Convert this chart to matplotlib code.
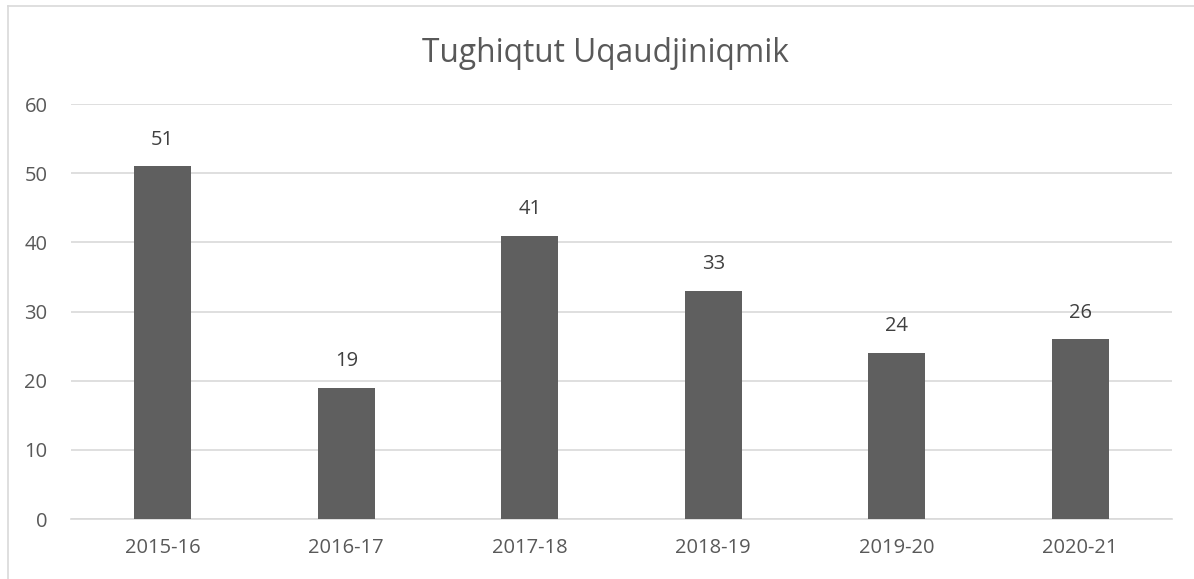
import matplotlib.pyplot as plt
from matplotlib.lines import Line2D

# datos del grafico
years = ["2015-16", "2016-17", "2017-18", "2018-19", "2019-20", "2020-21"]
values = [51, 19, 41, 33, 24, 26]

plt.rcParams['font.family'] = ['Open Sans', 'DejaVu Sans']
txt = '#595959'

fig = plt.figure(figsize=(11.94, 5.79), dpi=100)
ax = fig.add_axes([0.0595, 0.1036, 0.922, 0.7164])

x = range(len(years))
ax.bar(x, values, width=0.312, color='#5f5f5f', zorder=3)
for i, v in zip(x, values):
    ax.annotate(str(v), (i, v), xytext=(0, 12), textcoords='offset points',
                ha='center', va='bottom', fontsize=14.5, color='#404040')

ax.set_xlim(-0.5, len(years) - 0.5)
ax.set_ylim(0, 60)
ax.set_yticks(range(0, 61, 10))
ax.set_xticks(list(x))
ax.set_xticklabels(years)
ax.grid(axis='y', color='#d9d9d9', linewidth=1.2, zorder=0)
for s in ['top', 'right', 'left']:
    ax.spines[s].set_visible(False)
ax.spines['bottom'].set_color('#d9d9d9')
ax.spines['bottom'].set_linewidth(1.2)
ax.tick_params(length=0, labelsize=14.5, colors=txt, pad=14)
ax.tick_params(axis='y', pad=17)

fig.text(0.507, 0.908, "Tughiqtut Uqaudjiniqmik", ha='center', va='center',
         fontsize=22.8, color=txt)

# borde exterior (solo izquierda y arriba visibles)
fig.lines.append(Line2D([0.0063, 0.0063], [0, 0.9895], transform=fig.transFigure,
                        color='#d9d9d9', linewidth=1.2))
fig.lines.append(Line2D([0.0063, 1], [0.9895, 0.9895], transform=fig.transFigure,
                        color='#d9d9d9', linewidth=1.2))

fig.savefig("out.png", dpi=100)
